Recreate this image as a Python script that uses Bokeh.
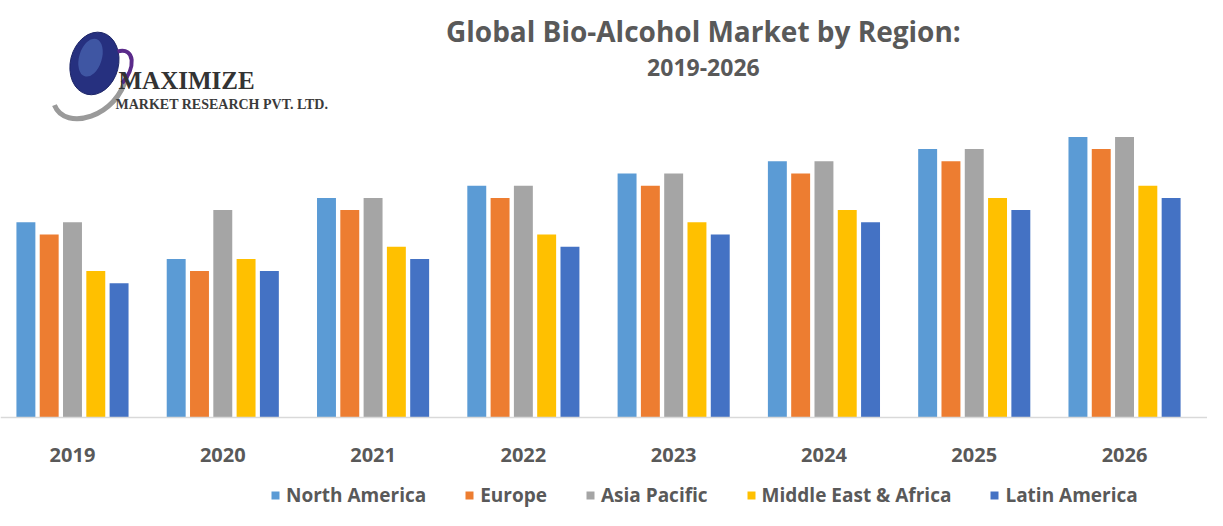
from bokeh.plotting import figure
from bokeh.models import ColumnDataSource, Range1d, Legend, LegendItem, Span, Label
from bokeh.transform import dodge
from bokeh.core.properties import value
from bokeh.embed import file_html
from bokeh.resources import INLINE

years = ["2019", "2020", "2021", "2022", "2023", "2024", "2025", "2026"]
regions = ["North America", "Europe", "Asia Pacific", "Middle East & Africa", "Latin America"]
north_america = [16, 13, 18, 19, 20, 21, 22, 23]
europe = [15, 12, 17, 18, 19, 20, 21, 22]
asia_pacific = [16, 17, 18, 19, 20, 21, 22, 23]
middle_east_africa = [12, 13, 14, 15, 16, 17, 18, 19]
latin_america = [11, 12, 13, 14, 15, 16, 17, 18]
colors = ["#5B9BD5", "#ED7D31", "#A5A5A5", "#FFC000", "#4472C4"]

series = [north_america, europe, asia_pacific, middle_east_africa, latin_america]
keys = ["na", "eu", "ap", "mea", "la"]

data = {"x": list(range(len(years))), "year": years}
for k, s in zip(keys, series):
    data[k] = s
src = ColumnDataSource(data)

GRAY = "#595959"
FONT = "Open Sans"

p = figure(width=1207, height=510, output_backend="svg", toolbar_location=None,
           x_range=Range1d(-0.479, 7.552), y_range=Range1d(-7.62, 34.18),
           x_axis_location=None, y_axis_location=None,
           min_border=0, outline_line_color=None)
p.grid.visible = False
p.background_fill_color = "white"

offsets = [-0.31, -0.155, 0.0, 0.155, 0.31]
renderers = []
for k, off, c in zip(keys, offsets, colors):
    r = p.vbar(x=dodge("x", off, range=p.x_range), top=k, bottom=0, width=0.126,
               source=src, fill_color=c, line_color=None)
    renderers.append(r)

p.add_layout(Span(location=0, dimension="width", line_color="#d9d9d9", line_width=1.5))

# year labels under each group
lbl_src = ColumnDataSource({"x": list(range(len(years))), "y": [-3.1] * len(years), "t": years})
p.text(x="x", y="y", text="t", source=lbl_src, text_align="center", text_baseline="middle",
       text_font=value(FONT), text_font_size="20px", text_font_style="bold", text_color=GRAY)

# titles
p.add_layout(Label(x=4.198, y=31.72, text="Global Bio-Alcohol Market by Region:",
                   text_align="center", text_baseline="middle", text_font=FONT,
                   text_font_size="28px", text_font_style="bold", text_color=GRAY))
p.add_layout(Label(x=4.198, y=28.69, text="2019-2026",
                   text_align="center", text_baseline="middle", text_font=FONT,
                   text_font_size="23px", text_font_style="bold", text_color=GRAY))

# logo
p.bezier(x0=[-0.12], y0=[25.6], x1=[0.36], y1=[28.0], cx0=[-0.05], cy0=[23.4],
         cx1=[0.30], cy1=[24.6], line_color="#9a9a9a", line_width=5)
p.ellipse(x=[0.146], y=[29.02], width=0.32, height=5.2, angle=-0.25,
          fill_color="#26307f", line_color="#1c2466")
p.ellipse(x=[0.12], y=[29.5], width=0.15, height=3.2, angle=-0.3,
          fill_color="#5f86d0", line_color=None, fill_alpha=0.45)
p.bezier(x0=[0.30], y0=[30.0], x1=[0.33], y1=[27.4], cx0=[0.42], cy0=[30.4],
         cx1=[0.42], cy1=[28.6], line_color="#5a2a8a", line_width=4)
p.add_layout(Label(x=0.306, y=27.62, text="MAXIMIZE", text_align="left",
                   text_baseline="middle", text_font="Liberation Serif",
                   text_font_size="25px", text_font_style="bold", text_color="#333333"))
p.add_layout(Label(x=0.286, y=25.66, text="MARKET RESEARCH PVT. LTD.", text_align="left",
                   text_baseline="middle", text_font="Liberation Serif",
                   text_font_size="14px", text_font_style="bold", text_color="#3a3a3a"))

legend = Legend(items=[LegendItem(label=n, renderers=[r]) for n, r in zip(regions, renderers)],
                orientation="horizontal", location=(270, 2),
                glyph_width=10, glyph_height=10, label_standoff=6, spacing=38,
                padding=0, margin=0, border_line_color=None, background_fill_alpha=0,
                label_text_font=FONT, label_text_font_size="19px", label_text_font_style="bold",
                label_text_color=GRAY, label_height=18)
p.add_layout(legend)

open("out.html", "w").write(file_html(p, INLINE))
